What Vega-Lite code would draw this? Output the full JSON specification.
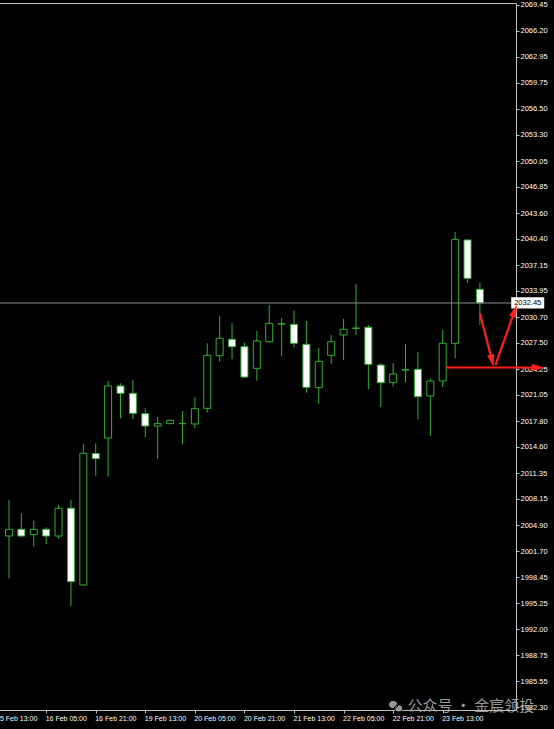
{
  "$schema": "https://vega.github.io/schema/vega-lite/v6.json",
  "width": 529,
  "height": 707,
  "autosize": {"type": "none"},
  "padding": {"left": -13, "top": 3, "right": 38, "bottom": 19},
  "background": "#000000",
  "config": {"view": {"stroke": null}, "font": "Liberation Sans"},
  "resolve": {"axis": {"x": "independent", "y": "independent"}},
  "datasets": {
    "candles": [
      {"i": 0, "o": 2003.56, "h": 2008.03, "l": 1998.32, "c": 2004.39},
      {"i": 1, "o": 2004.39, "h": 2006.38, "l": 2003.40, "c": 2003.56},
      {"i": 2, "o": 2003.73, "h": 2005.46, "l": 2002.24, "c": 2004.39},
      {"i": 3, "o": 2004.39, "h": 2004.64, "l": 2002.55, "c": 2003.56},
      {"i": 4, "o": 2003.56, "h": 2007.41, "l": 2003.23, "c": 2007.00},
      {"i": 5, "o": 2007.00, "h": 2008.03, "l": 1994.89, "c": 1997.90},
      {"i": 6, "o": 1997.49, "h": 2014.97, "l": 1997.37, "c": 2013.82},
      {"i": 7, "o": 2013.78, "h": 2015.05, "l": 2011.04, "c": 2013.15},
      {"i": 8, "o": 2015.71, "h": 2022.78, "l": 2010.92, "c": 2022.16},
      {"i": 9, "o": 2022.16, "h": 2022.49, "l": 2018.15, "c": 2021.25},
      {"i": 10, "o": 2021.25, "h": 2022.91, "l": 2018.03, "c": 2018.77},
      {"i": 11, "o": 2018.72, "h": 2019.39, "l": 2015.80, "c": 2017.20},
      {"i": 12, "o": 2017.20, "h": 2018.35, "l": 2013.15, "c": 2017.49},
      {"i": 13, "o": 2017.49, "h": 2018.03, "l": 2017.45, "c": 2017.90},
      {"i": 14, "o": 2017.49, "h": 2019.06, "l": 2014.93, "c": 2017.52},
      {"i": 15, "o": 2017.45, "h": 2020.76, "l": 2016.95, "c": 2019.35},
      {"i": 16, "o": 2019.39, "h": 2027.45, "l": 2018.85, "c": 2025.96},
      {"i": 17, "o": 2025.91, "h": 2030.84, "l": 2025.17, "c": 2028.07},
      {"i": 18, "o": 2027.95, "h": 2029.93, "l": 2025.47, "c": 2027.03},
      {"i": 19, "o": 2027.03, "h": 2027.53, "l": 2023.15, "c": 2023.27},
      {"i": 20, "o": 2024.35, "h": 2029.01, "l": 2022.82, "c": 2027.74},
      {"i": 21, "o": 2027.65, "h": 2032.20, "l": 2027.53, "c": 2029.93},
      {"i": 22, "o": 2029.84, "h": 2030.55, "l": 2025.88, "c": 2029.87},
      {"i": 23, "o": 2029.80, "h": 2031.49, "l": 2026.96, "c": 2027.45},
      {"i": 24, "o": 2027.33, "h": 2030.22, "l": 2021.33, "c": 2022.00},
      {"i": 25, "o": 2021.95, "h": 2026.91, "l": 2019.89, "c": 2025.22},
      {"i": 26, "o": 2025.96, "h": 2028.48, "l": 2024.89, "c": 2027.65},
      {"i": 27, "o": 2028.48, "h": 2030.50, "l": 2025.38, "c": 2029.19},
      {"i": 28, "o": 2029.31, "h": 2034.80, "l": 2028.48, "c": 2029.34},
      {"i": 29, "o": 2029.44, "h": 2029.72, "l": 2021.75, "c": 2024.85},
      {"i": 30, "o": 2024.76, "h": 2024.97, "l": 2019.52, "c": 2022.57},
      {"i": 31, "o": 2022.57, "h": 2024.97, "l": 2022.07, "c": 2023.65},
      {"i": 32, "o": 2024.15, "h": 2027.37, "l": 2022.57, "c": 2024.18},
      {"i": 33, "o": 2024.23, "h": 2026.37, "l": 2018.03, "c": 2020.83},
      {"i": 34, "o": 2020.92, "h": 2023.11, "l": 2015.96, "c": 2022.78},
      {"i": 35, "o": 2022.78, "h": 2029.10, "l": 2022.00, "c": 2027.45},
      {"i": 36, "o": 2027.45, "h": 2041.25, "l": 2025.59, "c": 2040.34},
      {"i": 37, "o": 2040.26, "h": 2040.34, "l": 2034.96, "c": 2035.51},
      {"i": 38, "o": 2034.15, "h": 2034.96, "l": 2029.72, "c": 2032.45}
    ],
    "arrows": [
      {"a": "down", "s": 0, "i": 38.0, "p": 2031.17},
      {"a": "down", "s": 1, "i": 38.99, "p": 2025.27},
      {"a": "up", "s": 0, "i": 39.25, "p": 2024.76},
      {"a": "up", "s": 1, "i": 40.81, "p": 2031.5},
      {"a": "right", "s": 0, "i": 35.29, "p": 2024.45},
      {"a": "right", "s": 1, "i": 42.73, "p": 2024.45}
    ],
    "last": [{"price": 2032.45}]
  },
  "layer": [
    {
      "data": {"name": "candles"},
      "mark": {"type": "rule", "color": "#34ad34", "strokeWidth": 1},
      "encoding": {
        "x": {
          "field": "i", "type": "quantitative",
          "scale": {"domain": [-1.37, 40.51], "nice": false, "zero": false},
          "axis": {
            "orient": "bottom", "title": null, "grid": false,
            "values": [-1, 3, 7, 11, 15, 19, 23, 27, 31, 35],
            "labelExpr": "['15 Feb 13:00','16 Feb 05:00','16 Feb 21:00','19 Feb 13:00','20 Feb 05:00','20 Feb 21:00','21 Feb 13:00','22 Feb 05:00','22 Feb 21:00','23 Feb 13:00'][(datum.value + 1) / 4]",
            "labelAlign": "left", "labelBaseline": "top", "labelPadding": 1, "labelOffset": -1,
            "labelFontSize": 7, "labelColor": "#ffffff", "labelFont": "Liberation Sans",
            "labelFlush": false, "labelOverlap": false,
            "tickSize": 3, "tickColor": "#c0c0c0", "domainColor": "#c0c0c0"
          }
        },
        "y": {
          "field": "l", "type": "quantitative",
          "scale": {"domain": [1981.99, 2069.64], "nice": false, "zero": false},
          "axis": {
            "orient": "right", "title": null, "grid": false,
            "values": [2069.45, 2066.20, 2062.95, 2059.75, 2056.50, 2053.30, 2050.05, 2046.85, 2043.60, 2040.40, 2037.15, 2033.95, 2030.70, 2027.50, 2024.25, 2021.05, 2017.80, 2014.60, 2011.35, 2008.15, 2004.90, 2001.70, 1998.45, 1995.25, 1992.00, 1988.75, 1985.55, 1982.30],
            "format": ".2f",
            "labelAlign": "left", "labelBaseline": "middle", "labelPadding": 1,
            "labelFontSize": 7.5, "labelColor": "#ffffff", "labelFont": "Liberation Sans",
            "labelFlush": false, "labelOverlap": false,
            "tickSize": 3, "tickColor": "#c0c0c0", "domainColor": "#c0c0c0"
          }
        },
        "y2": {"field": "h"}
      }
    },
    {
      "data": {"name": "candles"},
      "mark": {"type": "bar", "width": 7, "stroke": "#34ad34", "strokeWidth": 1},
      "encoding": {
        "x": {
          "field": "i", "type": "quantitative",
          "axis": {"orient": "top", "title": null, "grid": false, "labels": false, "ticks": false, "domain": true, "domainColor": "#c0c0c0"}
        },
        "y": {"field": "o", "type": "quantitative", "axis": null},
        "y2": {"field": "c"},
        "fill": {"condition": {"test": "datum.c < datum.o", "value": "#ffffff"}, "value": "#000000"}
      }
    },
    {
      "data": {"name": "last"},
      "mark": {"type": "rule", "color": "#8c8c8c", "strokeWidth": 1},
      "encoding": {
        "y": {"field": "price", "type": "quantitative", "axis": null}
      }
    },
    {
      "data": {"name": "last"},
      "mark": {"type": "point", "shape": "M-1,-0.34H1V0.34H-1Z", "size": 1089, "filled": true, "fill": "#ffffff", "strokeWidth": 0, "opacity": 1},
      "encoding": {
        "x": {"datum": 41.86, "type": "quantitative", "axis": null},
        "y": {"field": "price", "type": "quantitative", "axis": null}
      }
    },
    {
      "data": {"name": "last"},
      "mark": {"type": "text", "fontSize": 7.5, "font": "Liberation Sans", "color": "#000000", "align": "center", "baseline": "middle"},
      "encoding": {
        "x": {"datum": 41.86, "type": "quantitative", "axis": null},
        "y": {"field": "price", "type": "quantitative", "axis": null},
        "text": {"field": "price", "type": "quantitative", "format": ".2f"}
      }
    },
    {
      "data": {"name": "arrows"},
      "mark": {"type": "line", "color": "#ff1f1f", "strokeWidth": 2.2},
      "encoding": {
        "x": {"field": "i", "type": "quantitative", "axis": null},
        "y": {"field": "p", "type": "quantitative", "axis": null},
        "detail": {"field": "a"},
        "order": {"field": "s"}
      }
    },
    {
      "data": {"name": "arrows"},
      "transform": [{"filter": "datum.a == 'down' && datum.s == 1"}],
      "mark": {"type": "point", "shape": "M0,-1L0.55,1L-0.55,1Z", "size": 169, "filled": true, "fill": "#ff1f1f", "strokeWidth": 0, "opacity": 1, "angle": 166},
      "encoding": {
        "x": {"field": "i", "type": "quantitative", "axis": null},
        "y": {"field": "p", "type": "quantitative", "axis": null}
      }
    },
    {
      "data": {"name": "arrows"},
      "transform": [{"filter": "datum.a == 'up' && datum.s == 1"}],
      "mark": {"type": "point", "shape": "M0,-1L0.55,1L-0.55,1Z", "size": 169, "filled": true, "fill": "#ff1f1f", "strokeWidth": 0, "opacity": 1, "angle": 20},
      "encoding": {
        "x": {"field": "i", "type": "quantitative", "axis": null},
        "y": {"field": "p", "type": "quantitative", "axis": null}
      }
    },
    {
      "data": {"name": "arrows"},
      "transform": [{"filter": "datum.a == 'right' && datum.s == 1"}],
      "mark": {"type": "point", "shape": "M0,-1L0.55,1L-0.55,1Z", "size": 169, "filled": true, "fill": "#ff1f1f", "strokeWidth": 0, "opacity": 1, "angle": 90},
      "encoding": {
        "x": {"field": "i", "type": "quantitative", "axis": null},
        "y": {"field": "p", "type": "quantitative", "axis": null}
      }
    },
    {
      "data": {"values": [{"label": "公众号 · 金宸领投"}]},
      "mark": {"type": "text", "font": "Noto Sans CJK SC", "fontSize": 15, "color": "#b4b4b4", "opacity": 0.85, "align": "center", "baseline": "middle"},
      "encoding": {
        "x": {"datum": 37.27, "type": "quantitative", "axis": null},
        "y": {"datum": 1982.48, "type": "quantitative", "axis": null},
        "text": {"field": "label"}
      }
    },
    {
      "data": {"values": [{"label": "wechat"}]},
      "mark": {"type": "point", "shape": "M-0.95,-0.2a0.62,0.55 0 1,0 1.24,0a0.62,0.55 0 1,0 -1.24,0Z M-0.15,0.3a0.55,0.48 0 1,0 1.1,0a0.55,0.48 0 1,0 -1.1,0Z", "size": 225, "filled": true, "fill": "#a8a8a8", "stroke": "#000000", "strokeWidth": 1, "opacity": 0.9},
      "encoding": {
        "x": {"datum": 31.2, "type": "quantitative", "axis": null},
        "y": {"datum": 1982.48, "type": "quantitative", "axis": null}
      }
    }
  ]
}
